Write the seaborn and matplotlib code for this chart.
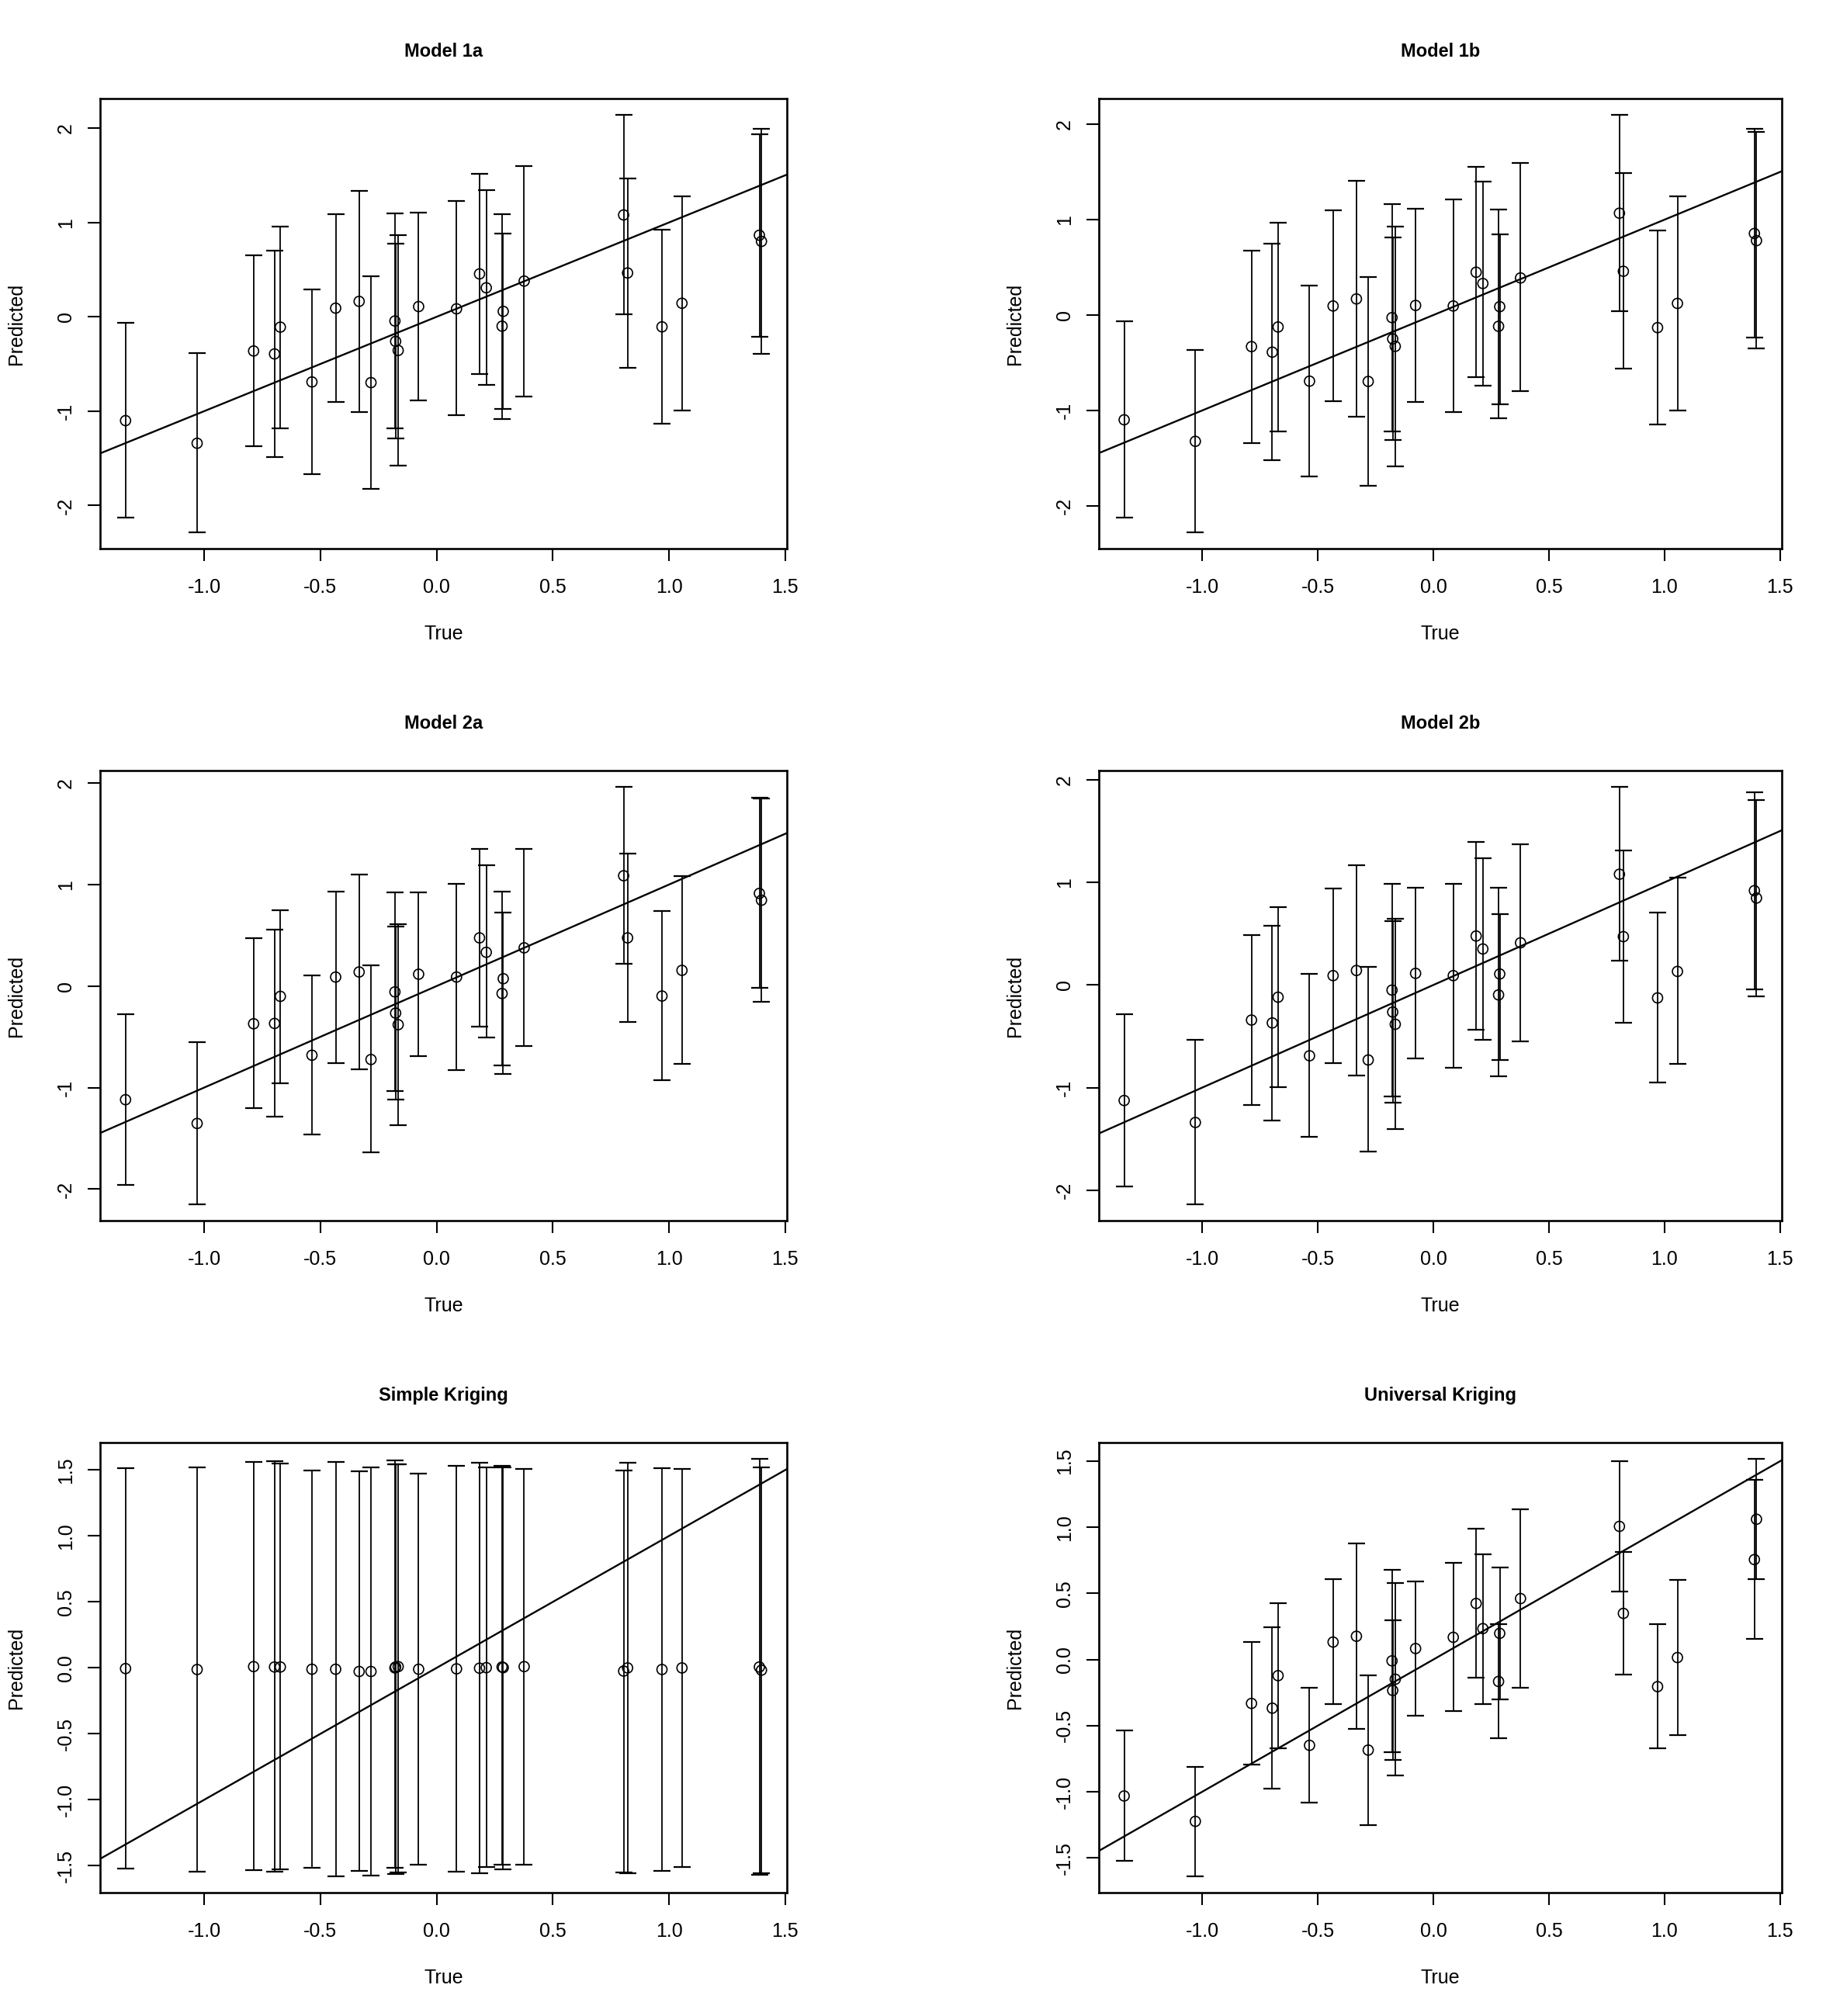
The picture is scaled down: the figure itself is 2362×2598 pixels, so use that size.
import numpy as np
import pandas as pd
import matplotlib
matplotlib.use("Agg")
import matplotlib.pyplot as plt
import seaborn as sns

# ---------------- data ----------------
true_vals = [-1.338, -1.030, -0.787, -0.697, -0.672, -0.536, -0.434, -0.333, -0.282,
             -0.179, -0.176, -0.165, -0.077, 0.086, 0.185, 0.214, 0.282, 0.287,
             0.377, 0.805, 0.822, 0.970, 1.056, 1.389, 1.398]

pred_1a = [-1.100, -1.340, -0.362, -0.393, -0.109, -0.690, 0.092, 0.164, -0.697, -0.044,
           -0.260, -0.356, 0.109, 0.085, 0.455, 0.308, -0.099, 0.058, 0.379, 1.080,
           0.465, -0.106, 0.144, 0.865, 0.800]
upper_1a = [-0.065, -0.386, 0.656, 0.700, 0.960, 0.290, 1.087, 1.337, 0.427, 1.097,
            0.773, 0.868, 1.108, 1.231, 1.518, 1.347, 1.090, 0.879, 1.597, 2.137,
            1.470, 0.920, 1.279, 1.935, 1.997]
lower_1a = [-2.130, -2.280, -1.374, -1.484, -1.180, -1.670, -0.906, -1.009, -1.822, -1.183,
            -1.285, -1.573, -0.885, -1.046, -0.605, -0.725, -1.084, -0.978, -0.841, 0.024,
            -0.544, -1.135, -0.991, -0.209, -0.393]

pred_1b = [-1.098, -1.324, -0.331, -0.389, -0.125, -0.693, 0.095, 0.169, -0.696, -0.027,
           -0.250, -0.328, 0.101, 0.095, 0.449, 0.331, -0.118, 0.088, 0.389, 1.068,
           0.459, -0.132, 0.122, 0.855, 0.780]
upper_1b = [-0.068, -0.368, 0.672, 0.747, 0.970, 0.307, 1.098, 1.409, 0.402, 1.166,
            0.811, 0.929, 1.118, 1.213, 1.554, 1.402, 1.105, 0.848, 1.591, 2.095,
            1.486, 0.885, 1.243, 1.956, 1.919]
lower_1b = [-2.125, -2.274, -1.341, -1.520, -1.223, -1.689, -0.902, -1.068, -1.787, -1.220,
            -1.311, -1.588, -0.909, -1.020, -0.652, -0.743, -1.081, -0.932, -0.800, 0.041,
            -0.564, -1.149, -0.997, -0.240, -0.351]

pred_2a = [-1.119, -1.353, -0.371, -0.368, -0.101, -0.681, 0.089, 0.139, -0.723, -0.057,
           -0.266, -0.380, 0.117, 0.089, 0.475, 0.333, -0.073, 0.073, 0.377, 1.087,
           0.475, -0.098, 0.155, 0.913, 0.846]
upper_2a = [-0.279, -0.555, 0.469, 0.558, 0.751, 0.105, 0.929, 1.100, 0.203, 0.922,
            0.590, 0.609, 0.926, 1.008, 1.353, 1.189, 0.929, 0.723, 1.350, 1.959,
            1.309, 0.739, 1.087, 1.854, 1.848]
lower_2a = [-1.959, -2.146, -1.204, -1.284, -0.954, -1.464, -0.758, -0.818, -1.639, -1.033,
            -1.116, -1.369, -0.688, -0.827, -0.396, -0.510, -0.780, -0.868, -0.593, 0.222,
            -0.355, -0.929, -0.764, -0.016, -0.152]

pred_2b = [-1.126, -1.340, -0.342, -0.370, -0.119, -0.690, 0.091, 0.141, -0.731, -0.050,
           -0.264, -0.383, 0.113, 0.091, 0.477, 0.351, -0.097, 0.107, 0.411, 1.079,
           0.471, -0.126, 0.132, 0.919, 0.847]
upper_2b = [-0.286, -0.537, 0.486, 0.580, 0.762, 0.107, 0.938, 1.167, 0.176, 0.985,
            0.621, 0.646, 0.944, 0.988, 1.393, 1.236, 0.944, 0.690, 1.371, 1.927,
            1.312, 0.703, 1.048, 1.876, 1.804]
lower_2b = [-1.967, -2.134, -1.167, -1.321, -0.998, -1.481, -0.762, -0.885, -1.625, -1.089,
            -1.148, -1.406, -0.715, -0.810, -0.433, -0.537, -0.891, -0.731, -0.549, 0.235,
            -0.367, -0.951, -0.772, -0.041, -0.113]

pred_sk = [-0.005, -0.012, 0.010, 0.007, 0.007, -0.010, -0.010, -0.027, -0.027, 0.000,
           0.007, 0.010, -0.010, -0.007, -0.002, 0.002, 0.007, 0.002, 0.010, -0.024,
           0.000, -0.012, 0.000, 0.007, -0.017]
upper_sk = [1.513, 1.521, 1.560, 1.570, 1.550, 1.494, 1.562, 1.489, 1.518, 1.575,
            1.543, 1.545, 1.474, 1.531, 1.553, 1.518, 1.531, 1.523, 1.506, 1.499,
            1.553, 1.513, 1.506, 1.582, 1.523]
lower_sk = [-1.523, -1.545, -1.533, -1.543, -1.528, -1.513, -1.577, -1.540, -1.572, -1.518,
            -1.565, -1.553, -1.491, -1.545, -1.557, -1.511, -1.489, -1.526, -1.489, -1.553,
            -1.555, -1.538, -1.511, -1.567, -1.557]

pred_uk = [-1.032, -1.224, -0.332, -0.368, -0.122, -0.649, 0.132, 0.176, -0.685, -0.010,
           -0.234, -0.149, 0.083, 0.168, 0.424, 0.234, -0.166, 0.198, 0.461, 1.007,
           0.349, -0.205, 0.015, 0.756, 1.061]
upper_uk = [-0.537, -0.810, 0.134, 0.246, 0.427, -0.212, 0.607, 0.878, -0.117, 0.678,
            0.295, 0.576, 0.590, 0.729, 0.990, 0.798, 0.266, 0.698, 1.137, 1.500,
            0.812, 0.268, 0.605, 1.361, 1.515]
lower_uk = [-1.524, -1.637, -0.793, -0.978, -0.671, -1.080, -0.337, -0.522, -1.251, -0.698,
            -0.761, -0.876, -0.427, -0.390, -0.139, -0.334, -0.595, -0.302, -0.212, 0.515,
            -0.115, -0.673, -0.571, 0.154, 0.607]

titles = ["Model 1a", "Model 1b", "Model 2a", "Model 2b", "Simple Kriging", "Universal Kriging"]
x_ticks = [-1.0, -0.5, 0.0, 0.5, 1.0, 1.5]
x_tick_labels = ["-1.0", "-0.5", "0.0", "0.5", "1.0", "1.5"]
y_ticks_model = [-2, -1, 0, 1, 2]
y_tick_labels_model = ["-2", "-1", "0", "1", "2"]
y_ticks_krig = [-1.5, -1.0, -0.5, 0.0, 0.5, 1.0, 1.5]
y_tick_labels_krig = ["-1.5", "-1.0", "-0.5", "0.0", "0.5", "1.0", "1.5"]
x_label = "True"
y_label = "Predicted"

# ---------------- style ----------------
sns.set_theme(style="white")
plt.rcParams["font.family"] = ["Liberation Sans", "DejaVu Sans"]
plt.rcParams["axes.unicode_minus"] = False

W, H = 2362, 2598
fig = plt.figure(figsize=(W / 100, H / 100), dpi=100)

panels = [
    (pred_1a, upper_1a, lower_1a, y_ticks_model, y_tick_labels_model),
    (pred_1b, upper_1b, lower_1b, y_ticks_model, y_tick_labels_model),
    (pred_2a, upper_2a, lower_2a, y_ticks_model, y_tick_labels_model),
    (pred_2b, upper_2b, lower_2b, y_ticks_model, y_tick_labels_model),
    (pred_sk, upper_sk, lower_sk, y_ticks_krig, y_tick_labels_krig),
    (pred_uk, upper_uk, lower_uk, y_ticks_krig, y_tick_labels_krig),
]

col_left = [129, 1416]
col_width = [885, 880]
row_top0 = 127
row_step = 866
ax_h = 580

x = np.array(true_vals)
for i, (pred, up, lo, yt, ytl) in enumerate(panels):
    r, c = divmod(i, 2)
    left = col_left[c] / W
    width = col_width[c] / W
    top_px = row_top0 + r * row_step
    bottom = 1 - (top_px + ax_h) / H
    ax = fig.add_axes([left, bottom, width, ax_h / H])

    df = pd.DataFrame({"true": x, "pred": pred, "upper": up, "lower": lo})
    ax.errorbar(df["true"], df["pred"],
                yerr=[df["pred"] - df["lower"], df["upper"] - df["pred"]],
                fmt="none", ecolor="black", elinewidth=1.3, capsize=8, capthick=1.6,
                zorder=2)
    sns.scatterplot(data=df, x="true", y="pred", ax=ax, marker="o", s=88,
                    facecolor="none", edgecolor="black", linewidth=1.2, zorder=3)
    ax.axline((0, 0), slope=1, color="black", lw=1.7, zorder=1)

    # R-style axis ranges (4% padding)
    xr = x.max() - x.min()
    ax.set_xlim(x.min() - 0.04 * xr, x.max() + 0.04 * xr)
    ymin, ymax = min(lo), max(up)
    yr = ymax - ymin
    ax.set_ylim(ymin - 0.04 * yr, ymax + 0.04 * yr)

    ax.set_xticks(x_ticks)
    ax.set_xticklabels(x_tick_labels)
    ax.set_yticks(yt)
    ax.set_yticklabels(ytl, rotation=90, va="center")
    ax.tick_params(axis="both", direction="out", length=11.5, width=1.5,
                   colors="black", labelsize=18)
    ax.tick_params(axis="x", pad=15.5)
    ax.tick_params(axis="y", pad=11.5)
    ax.tick_params(bottom=True, left=True, top=False, right=False)

    for sp in ax.spines.values():
        sp.set_visible(True)
        sp.set_color("black")
        sp.set_linewidth(1.9)

    ax.set_xlabel(x_label, fontsize=18, color="black", va="center")
    ax.xaxis.set_label_coords(0.5, -110 / ax_h)
    ax.set_ylabel(y_label, fontsize=18, color="black", va="center")
    ax.yaxis.set_label_coords(-108 / col_width[c], 0.5)
    ax.set_title(titles[i], fontsize=17, fontweight="bold", color="black", pad=39)
    ax.grid(False)

fig.savefig("out.png", dpi=100, facecolor="white")
